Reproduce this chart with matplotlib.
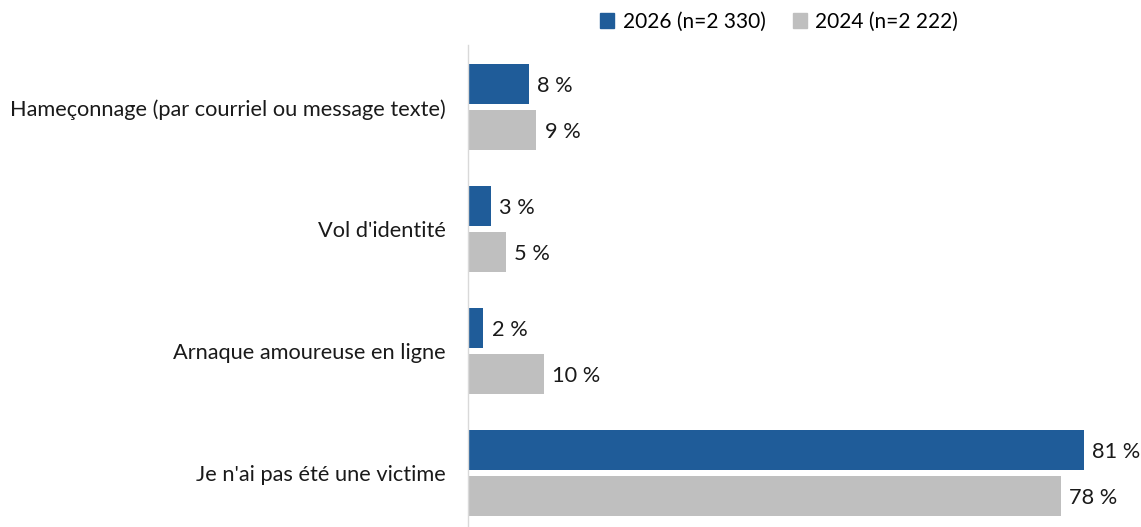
import numpy as np
import matplotlib
matplotlib.use("Agg")
import matplotlib.pyplot as plt
from matplotlib.patches import Patch

categories = ["Hameçonnage (par courriel ou message texte)", "Vol d'identité",
              "Arnaque amoureuse en ligne", "Je n'ai pas été une victime"]
values_2026 = [8, 3, 2, 81]
values_2024 = [9, 5, 10, 78]
series_labels = ["2026 (n=2 330)", "2024 (n=2 222)"]

BLUE = "#1F5C99"
GRAY = "#BFBFBF"
TEXT = "#1A1A1A"
FS = 15.7

plt.rcParams["font.family"] = ["Lato", "DejaVu Sans"]

W, H = 1141, 527
fig = plt.figure(figsize=(W / 100, H / 100), dpi=100)
ax = fig.add_axes([468 / W, 0, (W - 468) / W, (527 - 45) / H])

y = np.arange(len(categories))
bar_h = 40 / 122
off = 23 / 122
ax.barh(y - off, values_2026, height=bar_h, color=BLUE)
ax.barh(y + off, values_2024, height=bar_h, color=GRAY)

for yi, v in zip(y - off, values_2026):
    ax.annotate(f"{v} %", (v, yi), xytext=(6, -1), textcoords="offset points",
                va="center", ha="left", fontsize=FS, color=TEXT)
for yi, v in zip(y + off, values_2024):
    ax.annotate(f"{v} %", (v, yi), xytext=(6, -1), textcoords="offset points",
                va="center", ha="left", fontsize=FS, color=TEXT)

ax.set_xlim(0, (W - 468) / 7.6)
ax.set_ylim(3.439, -0.512)
ax.set_yticks(y)
ax.set_yticklabels(categories, fontsize=FS, color=TEXT)
ax.tick_params(axis="y", length=0, pad=16)
ax.set_xticks([])
for side in ["top", "right", "bottom"]:
    ax.spines[side].set_visible(False)
ax.spines["left"].set_color("#D9D9D9")
ax.spines["left"].set_linewidth(1)

handles = [Patch(color=BLUE), Patch(color=GRAY)]
fig.legend(handles, series_labels, loc="center", bbox_to_anchor=(779 / W, 1 - 22 / H),
           ncol=2, frameon=False, fontsize=15, handlelength=0.7, handleheight=0.7,
           handletextpad=0.4, columnspacing=1.3)

fig.savefig("out.png", dpi=100, facecolor="white")
